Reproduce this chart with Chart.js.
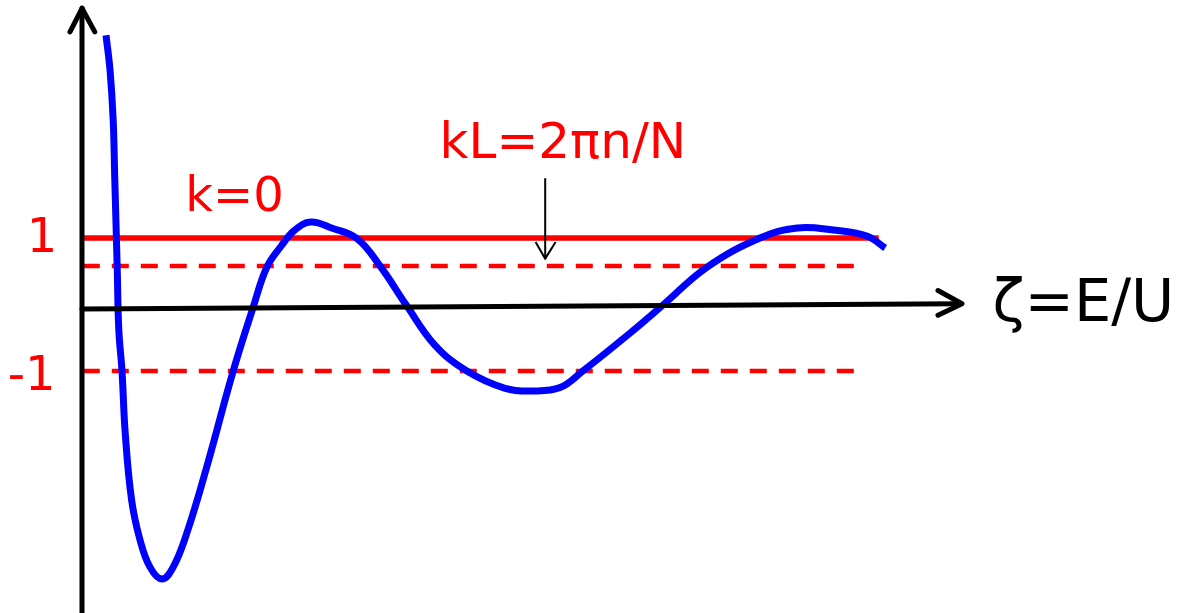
<!DOCTYPE html>
<html>
<head>
<meta charset="utf-8">
<title>Band condition ζ = E/U</title>
<script src="https://cdn.jsdelivr.net/npm/chart.js@4.4.1/dist/chart.umd.min.js"></script>
<style>
  html, body { margin: 0; padding: 0; background: #ffffff; }
  #wrap { position: relative; width: 1184px; height: 613px; }
</style>
</head>
<body>
<div id="wrap"><canvas id="c"></canvas></div>
<script>
// Energy axis ζ = E/U and the sampled band function f(ζ)
const zeta = [0.30, 0.35, 0.39, 0.41, 0.44, 0.46, 0.50, 0.54, 0.62, 0.725,
  0.85, 1.00, 1.14, 1.31, 1.56, 1.89, 2.14, 2.31, 2.49, 2.66,
  2.86, 3.12, 3.44, 3.725, 4.06, 4.41, 4.81, 5.29, 5.64, 5.975,
  6.26, 6.85, 7.26, 7.81, 8.475, 8.94, 9.39, 9.81, 10.04];
const bandFunction = [4.05, 3.53, 2.77, 1.87, 0.56, -0.38, -1.00, -1.93, -2.94, -3.54,
  -3.95, -4.13, -3.95, -3.44, -2.44, -1.00, -0.04, 0.56, 0.88, 1.12,
  1.24, 1.15, 0.99, 0.58, -0.02, -0.61, -1.00, -1.26, -1.30, -1.25,
  -1.00, -0.43, -0.01, 0.56, 1.00, 1.15, 1.12, 1.03, 0.85];

// Reference levels: k = 0 condition and the dashed band edges
const levelK0 = 1;
const levelUpper = 0.58;
const levelLower = -1;
const levelSpanK0 = [0, 9.96];
const levelSpanDashed = [0.01, 9.675];

// Labels
const tickLabels = ['1', '-1'];
const tickValues = [1, -1];
const labelK0 = 'k=0';
const labelKL = 'kL=2πn/N';
const labelAxis = 'ζ=E/U';

const curve = zeta.map((z, i) => ({ x: z, y: bandFunction[i] }));
const levelLine = (v, span) => span.map(x => ({ x: x, y: v }));

const RED = '#ff0000';
const BLUE = '#0000ff';
const FONT = '"DejaVu Sans", sans-serif';

// Axes with arrowheads, level labels and annotation text
const sketchDecor = {
  id: 'sketchDecor',
  afterDatasetsDraw(chart) {
    const ctx = chart.ctx;
    const xs = chart.scales.x, ys = chart.scales.y;
    const px = v => xs.getPixelForValue(v);
    const py = v => ys.getPixelForValue(v);
    ctx.save();
    ctx.strokeStyle = '#000';
    ctx.lineCap = 'round';
    ctx.lineJoin = 'round';

    // vertical axis
    const ax0 = px(0);
    ctx.lineWidth = 5;
    ctx.beginPath();
    ctx.moveTo(ax0, chart.height + 5);
    ctx.lineTo(ax0, py(4.46));
    ctx.stroke();
    ctx.beginPath();
    ctx.moveTo(px(-0.15), py(4.1));
    ctx.lineTo(ax0, py(4.455));
    ctx.lineTo(px(0.16), py(4.1));
    ctx.stroke();

    // horizontal ζ axis (slightly rising)
    ctx.beginPath();
    ctx.moveTo(ax0, py(-0.068));
    ctx.lineTo(px(10.98), py(0.012));
    ctx.stroke();
    ctx.beginPath();
    ctx.moveTo(px(10.7), py(0.21));
    ctx.lineTo(px(11.0), py(0.012));
    ctx.lineTo(px(10.7), py(-0.16));
    ctx.stroke();

    // arrow pointing at the kL = 2πn/N levels
    ctx.lineWidth = 2;
    ctx.lineCap = 'butt';
    ctx.beginPath();
    ctx.moveTo(px(5.79), py(1.9));
    ctx.lineTo(px(5.79), py(0.68));
    ctx.stroke();
    ctx.beginPath();
    ctx.moveTo(px(5.67), py(0.94));
    ctx.lineTo(px(5.79), py(0.69));
    ctx.lineTo(px(5.92), py(0.94));
    ctx.stroke();

    // text
    ctx.fillStyle = RED;
    ctx.textBaseline = 'alphabetic';
    ctx.textAlign = 'center';
    ctx.font = '48px ' + FONT;
    ctx.fillText(tickLabels[0], px(-0.5), py(tickValues[0]) + 14);
    ctx.fillText(tickLabels[1], px(-0.63), py(tickValues[1]) + 19);

    ctx.textAlign = 'left';
    ctx.font = '48px ' + FONT;
    ctx.fillText(labelK0, px(1.29), py(1.4));
    ctx.font = '50px ' + FONT;
    ctx.fillText(labelKL, px(4.47), py(2.21));

    ctx.fillStyle = '#000';
    ctx.font = '59px ' + FONT;
    ctx.fillText(labelAxis, px(11.38), py(-0.25));
    ctx.restore();
  }
};

new Chart(document.getElementById('c'), {
  type: 'scatter',
  data: {
    datasets: [
      {
        label: 'k=0',
        data: levelLine(levelK0, levelSpanK0),
        showLine: true, borderColor: RED, borderWidth: 5.5,
        pointRadius: 0, borderCapStyle: 'butt', order: 2
      },
      {
        label: 'upper',
        data: levelLine(levelUpper, levelSpanDashed),
        showLine: true, borderColor: RED, borderWidth: 4.5, borderDash: [17, 12],
        pointRadius: 0, borderCapStyle: 'butt', order: 3
      },
      {
        label: 'lower',
        data: levelLine(levelLower, levelSpanDashed),
        showLine: true, borderColor: RED, borderWidth: 4.5, borderDash: [17, 12],
        pointRadius: 0, borderCapStyle: 'butt', order: 3
      },
      {
        label: 'f(ζ)',
        data: curve,
        showLine: true, borderColor: BLUE, borderWidth: 7,
        pointRadius: 0, tension: 0.4,
        borderCapStyle: 'butt', borderJoinStyle: 'round', order: 1
      }
    ]
  },
  options: {
    responsive: true,
    maintainAspectRatio: false,
    animation: false,
    layout: { padding: 0 },
    plugins: { legend: { display: false }, tooltip: { enabled: false } },
    scales: {
      x: { type: 'linear', display: false, min: -1.025, max: 13.775 },
      y: { type: 'linear', display: false, min: -4.64, max: 4.58 }
    },
    elements: { line: { fill: false } },
    clip: false
  },
  plugins: [sketchDecor]
});
</script>
</body>
</html>
